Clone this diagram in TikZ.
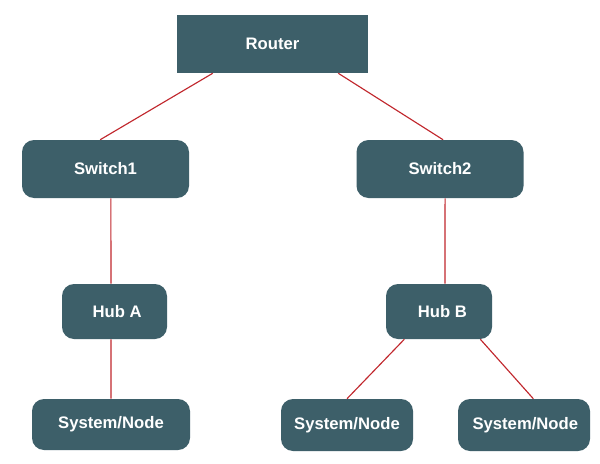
\documentclass[tikz,border=0pt]{standalone}
\usepackage{fontspec}
\setmainfont{Liberation Sans}
\definecolor{boxfill}{HTML}{3D5F69}
\definecolor{linkred}{HTML}{C1272D}
\begin{document}
\begin{tikzpicture}[x=0.75pt,y=-0.75pt,
  box/.style={fill=boxfill,draw=none,text=white,font=\fontsize{12.5pt}{14pt}\selectfont\bfseries,inner sep=0pt,align=center},
  rbox/.style={box,rounded corners=9pt},
  link/.style={draw=linkred,line width=0.85pt}]
\useasboundingbox[fill=white] (0,0) rectangle (600,464);
\node[box,minimum width=143.25pt,minimum height=43.5pt] (router) at (272.5,44) {Router};
\node[rbox,minimum width=125.25pt,minimum height=43.5pt] (sw1) at (105.5,169) {Switch1};
\node[rbox,minimum width=125.25pt,minimum height=43.5pt] (sw2) at (440,169) {Switch2};
\node[rbox,minimum width=78.75pt,minimum height=41.25pt] (hubA) at (114.5,311.5) {\hspace*{4pt}Hub A};
\node[rbox,minimum width=79.5pt,minimum height=41.25pt] (hubB) at (439,311.5) {\hspace*{5pt}Hub B};
\node[rbox,minimum width=118.5pt,minimum height=38.25pt] (n1) at (111,424.5) {System/Node};
\node[rbox,minimum width=99pt,minimum height=39pt] (n2) at (347,425) {System/Node};
\node[rbox,minimum width=99pt,minimum height=39pt] (n3) at (524,425) {\hspace*{2pt}System/Node};
\draw[link] ([xshift=27pt]router.south west) -- ([xshift=-4pt]sw1.north);
\draw[link] ([xshift=-22.5pt]router.south east) -- ([xshift=2.3pt]sw2.north);
\draw[link] ([xshift=4pt]sw1.south) -- ([xshift=-2.6pt]hubA.north);
\draw[link] ([xshift=3.8pt]sw2.south) -- ([xshift=4.5pt]hubB.north);
\draw[link] ([xshift=-26pt]hubB.south) -- ([xshift=0pt]n2.north);
\draw[link] ([xshift=31pt]hubB.south) -- ([xshift=7pt]n3.north);
\draw[link] ([xshift=-2.6pt]hubA.south) -- (n1.north);
\end{tikzpicture}
\end{document}
